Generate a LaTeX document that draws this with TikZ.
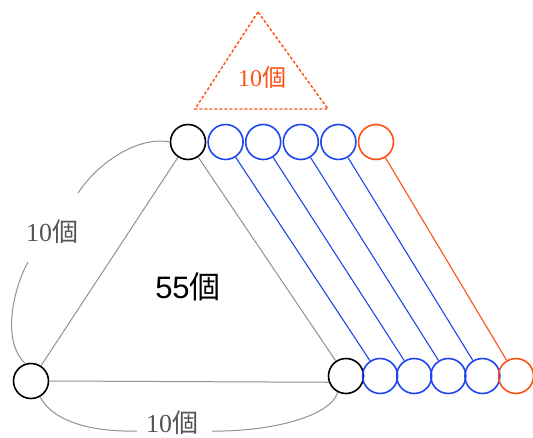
\documentclass[tikz,border=0pt]{standalone}
\usepackage{fontspec}
\setmainfont{Liberation Serif}
\newfontfamily\jpfont{Noto Sans CJK JP}
\newfontfamily\gothic{Liberation Sans}
\definecolor{ballblue}{RGB}{30,70,240}
\definecolor{ballred}{RGB}{255,80,20}
\definecolor{edgegray}{RGB}{145,145,145}
\definecolor{labelgray}{RGB}{85,85,85}
\tikzset{>=stealth}
\tikzset{ball/.style={draw, circle, minimum size=35pt, inner sep=0pt, line width=1.6pt}}

\begin{document}
\begin{tikzpicture}[x=1pt, y=-1pt]
\useasboundingbox (0,0) rectangle (533,437);
\node[ball] (A) at (188,142) {};
\node[ball] (B) at (31,381) {};
\node[ball] (C) at (346,376) {};
\foreach \i in {1,...,4}
{
\node[ball, ballblue] (T\i) at (188+37.6*\i,142) {};
\node[ball, ballblue] (U\i) at (346+34.1*\i,376) {};
\draw[ballblue, line width=1.1pt] (T\i) -- (U\i);
}
\node[ball, ballred] (T5) at (376,142) {};
\node[ball, ballred] (U5) at (516,376) {};
\draw[ballred, line width=1.1pt] (T5) -- (U5);
\draw[edgegray, line width=1pt] (A) -- (B);
\draw[edgegray, line width=1pt] (A) -- (C);
\draw[edgegray, line width=1pt] (B.east) -- (C.200);
\coordinate (L1) at (78,193);
\coordinate (L2) at (28,262);
\coordinate (M1) at (137,431);
\coordinate (M2) at (212,431);
\draw[edgegray, line width=1pt] (A.west) .. controls (140,136) and (100,160) .. (L1);
\draw[edgegray, line width=1pt] (L2) .. controls (15,285) and (0,340) .. (B.108);
\draw[edgegray, line width=1pt] (B.-60) .. controls (55,425) and (100,432) .. (M1);
\draw[edgegray, line width=1pt] (M2) .. controls (265,432) and (330,418) .. (C.-117);
\node[text=labelgray, inner sep=0pt, font=\fontsize{26}{26}\selectfont] (n1) at (52,232) {10{\jpfont 個}};
\node[text=labelgray, inner sep=0pt, font=\fontsize{26}{26}\selectfont] (n2) at (172,423) {10{\jpfont 個}};
\node[inner sep=0pt, font=\fontsize{31}{31}\selectfont\gothic] (n3) at (188,287) {55{\jpfont 個}};
\draw[ballred, line width=1.4pt, dash pattern=on 3pt off 2pt] (258,12) -- (195,109) -- (328,109) -- cycle;
\node[text=ballred, inner sep=0pt, font=\fontsize{24}{24}\selectfont] (n4) at (262,77) {10{\jpfont 個}};
\end{tikzpicture}
\end{document}
